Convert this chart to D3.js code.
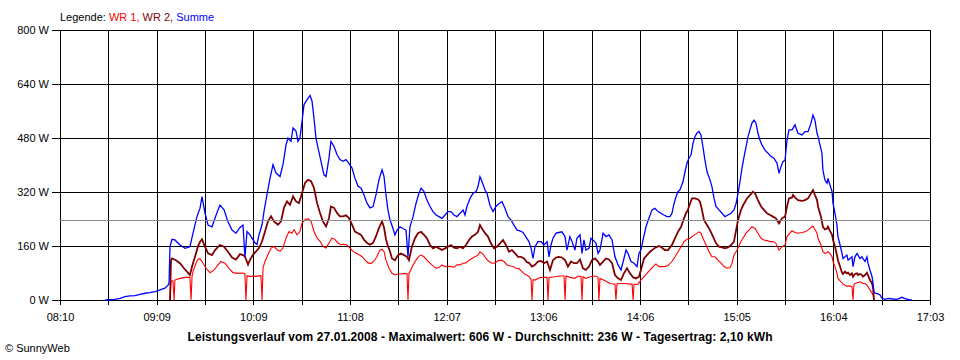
<!DOCTYPE html>
<html><head><meta charset="utf-8">
<script src="https://cdn.jsdelivr.net/npm/d3@7"></script>
<style>
body{margin:0;background:#fff;}
svg{display:block;font-family:"Liberation Sans",Arial,sans-serif;}
</style></head>
<body><svg id="c" width="960" height="360"></svg>
<script>
// time in minutes since midnight, power in W
const xTickLabels = ["08:10","09:09","10:09","11:08","12:07","13:06","14:06","15:05","16:04","17:03"];
const yTickValues = [0,160,320,480,640,800];
const averageW = 236;
const seriesNames = ["WR 1","WR 2","Summe"];
const seriesColors = ["#ff0000","#800000","#0000ff"];

const wr1 = [
[557.4,0],[558.0,54],[558.6,56],[559.2,57],[559.9,0],[560.4,59],[563.5,64],[566.6,67],[569.6,67],[570.3,0],[570.9,70],[571.5,84],[573.3,109],[574.5,120],[575.8,123],[577.6,109],[579.5,94],[581.9,81],[584.4,89],[586.8,104],[588.6,114],[591.1,109],[593.5,94],[596.0,81],[599.0,79],[601.5,80],[603.3,78],[603.9,0],[604.6,72],[606.4,70],[609.5,70],[613.1,72],[613.8,0],[614.4,95],[615.6,115],[617.4,134],[619.3,154],[621.1,159],[623.0,149],[624.8,144],[626.6,154],[628.5,184],[630.3,203],[632.1,198],[633.4,208],[635.2,193],[637.0,203],[638.3,228],[640.1,238],[641.9,241],[643.8,233],[645.6,203],[647.5,184],[649.3,174],[651.1,159],[653.0,154],[654.8,169],[656.6,184],[658.5,179],[660.3,169],[662.1,164],[664.0,165],[665.8,163],[667.7,154],[669.5,144],[671.3,139],[673.2,134],[675.0,129],[676.8,119],[678.7,110],[680.5,108],[682.4,115],[684.2,129],[686.0,148],[687.3,150],[688.5,144],[689.7,118],[691.6,94],[693.4,79],[695.2,74],[697.1,77],[698.9,77],[700.8,79],[702.6,78],[703.2,0],[703.8,80],[704.4,84],[706.3,104],[708.1,118],[709.9,130],[711.2,133],[713.0,128],[714.8,118],[716.7,109],[718.5,101],[720.4,94],[722.2,96],[724.0,104],[725.9,99],[727.7,100],[729.5,99],[731.4,97],[733.2,104],[735.1,104],[736.9,109],[738.7,110],[740.6,118],[742.4,123],[744.2,128],[746.1,133],[747.3,143],[749.2,136],[751.0,123],[752.8,114],[754.7,109],[756.5,110],[758.3,116],[760.2,118],[762.0,114],[763.8,104],[765.7,101],[767.5,99],[769.4,94],[771.2,93],[773.0,84],[774.9,76],[776.7,72],[778.6,62],[779.2,0],[779.8,60],[781.0,59],[782.8,64],[784.7,67],[787.1,67],[788.4,67],[789.0,0],[789.6,67],[793.3,69],[796.3,71],[798.8,71],[799.4,0],[800.0,71],[802.4,67],[805.5,64],[807.3,71],[809.2,70],[809.8,0],[810.4,69],[812.2,64],[814.7,69],[817.8,71],[819.6,68],[820.2,0],[820.8,64],[823.9,57],[827.0,49],[830.0,47],[830.6,0],[831.3,48],[833.1,49],[836.1,49],[839.2,47],[840.5,47],[841.1,0],[841.7,46],[844.1,47],[845.9,59],[847.8,69],[849.6,79],[851.5,89],[853.3,99],[855.1,107],[857.0,99],[858.8,99],[860.6,99],[862.5,102],[864.9,114],[866.8,128],[868.6,143],[870.5,158],[872.3,173],[874.1,180],[876.0,183],[877.8,190],[879.7,196],[881.5,202],[882.7,198],[883.9,183],[885.8,163],[887.6,143],[889.4,128],[891.3,128],[893.1,118],[895.0,109],[896.8,99],[898.6,94],[900.5,96],[901.7,109],[902.9,133],[904.8,148],[906.6,168],[908.4,183],[910.3,198],[912.1,207],[913.9,217],[915.8,212],[917.6,198],[919.5,183],[921.3,178],[923.1,176],[925.0,173],[926.8,173],[928.6,168],[930.5,148],[932.3,158],[934.2,163],[935.4,188],[936.6,195],[938.5,205],[940.3,200],[942.1,198],[944.6,200],[946.4,202],[948.3,207],[950.1,215],[951.3,219],[952.5,209],[953.8,198],[954.4,183],[956.2,163],[957.4,143],[958.6,138],[959.9,140],[960.5,143],[961.7,138],[963.0,128],[963.6,114],[964.8,99],[966.0,79],[966.6,64],[967.9,57],[969.1,51],[969.7,47],[970.9,44],[972.1,41],[974.0,41],[975.2,40],[975.8,0],[976.4,45],[977.0,49],[978.3,51],[978.9,51],[980.1,54],[981.3,51],[981.9,49],[983.2,49],[984.4,44],[985.0,40],[986.2,30],[987.5,20],[988.1,15],[988.7,0]
];

const wr2 = [
[557.4,0],[558.0,118],[558.6,123],[561.0,118],[563.5,109],[565.9,94],[567.8,84],[569.6,74],[570.9,99],[572.7,128],[574.5,158],[575.8,173],[577.0,180],[578.8,158],[580.7,138],[583.1,133],[585.0,148],[588.0,163],[590.5,158],[592.9,143],[595.4,126],[597.8,120],[600.3,136],[602.1,133],[603.3,129],[605.2,105],[606.4,119],[608.2,134],[610.1,144],[611.9,154],[613.8,174],[615.6,203],[617.4,233],[619.3,248],[621.1,233],[623.5,223],[625.4,233],[627.2,273],[629.1,292],[630.9,282],[632.8,307],[634.6,292],[636.4,287],[638.3,317],[640.1,347],[641.9,356],[643.8,352],[645.6,332],[647.5,287],[649.3,258],[651.1,233],[653.0,218],[654.8,243],[656.0,277],[657.9,273],[659.7,258],[661.5,248],[663.4,248],[665.2,251],[667.0,243],[668.9,223],[670.7,203],[672.6,198],[674.4,193],[676.2,179],[678.1,169],[679.9,164],[681.8,169],[683.6,189],[685.4,213],[687.3,233],[688.5,215],[689.7,180],[690.9,160],[692.2,143],[693.4,123],[695.2,118],[697.1,133],[698.9,138],[700.8,133],[702.6,128],[703.8,118],[705.6,158],[707.5,183],[709.3,198],[711.2,202],[713.0,193],[714.8,183],[716.7,163],[718.5,153],[720.4,158],[722.2,153],[724.0,148],[725.9,153],[727.7,158],[729.5,163],[731.4,155],[733.2,153],[735.1,158],[736.9,153],[738.7,163],[740.6,178],[742.4,188],[744.2,193],[746.1,202],[747.3,222],[748.5,212],[750.4,198],[752.2,188],[754.0,168],[755.9,153],[757.7,158],[759.6,168],[761.4,178],[763.2,163],[765.1,143],[766.9,148],[768.8,138],[770.6,128],[772.4,128],[774.3,123],[776.1,112],[777.3,110],[779.2,99],[781.0,104],[782.8,114],[784.7,116],[786.5,109],[788.4,114],[790.2,89],[792.0,118],[793.9,126],[795.7,128],[797.5,126],[799.4,118],[801.2,99],[803.1,114],[804.9,109],[806.7,109],[808.6,120],[810.4,94],[812.2,89],[814.1,99],[815.9,118],[817.8,123],[819.6,114],[820.8,104],[822.7,114],[824.5,123],[826.3,120],[828.2,109],[830.0,74],[831.9,64],[833.7,59],[835.5,79],[837.4,94],[839.2,79],[841.1,67],[842.9,64],[844.7,69],[845.9,89],[847.8,123],[849.6,133],[851.5,143],[853.3,150],[855.1,156],[857.0,160],[858.8,155],[860.6,148],[862.5,148],[864.9,163],[866.8,183],[868.6,202],[870.5,217],[872.3,242],[873.5,257],[874.7,267],[876.0,286],[877.2,301],[879.0,301],[880.9,298],[882.1,291],[883.3,267],[884.5,237],[886.4,222],[888.2,207],[890.1,188],[891.9,168],[893.7,158],[895.6,156],[897.4,153],[899.2,156],[901.1,163],[902.9,173],[904.2,207],[905.4,237],[907.2,267],[909.1,286],[910.9,301],[912.7,311],[914.5,321],[915.8,316],[917.6,296],[919.5,277],[921.3,267],[923.1,257],[925.0,252],[926.8,247],[928.6,242],[930.5,227],[932.3,242],[934.2,247],[935.4,277],[936.6,301],[938.5,304],[939.1,311],[940.3,304],[942.1,296],[944.6,294],[946.4,296],[948.3,301],[950.1,316],[951.3,326],[952.5,311],[953.8,296],[954.4,277],[956.2,247],[957.4,217],[958.6,209],[959.9,212],[960.5,217],[961.7,205],[963.0,193],[963.6,178],[964.8,158],[966.0,133],[966.6,118],[967.9,99],[969.1,81],[969.7,77],[970.9,84],[972.1,79],[972.8,81],[974.0,74],[975.2,79],[975.8,69],[977.0,77],[978.3,79],[978.9,74],[980.1,77],[981.3,74],[981.9,69],[983.2,74],[984.4,81],[985.0,74],[986.2,59],[987.5,49],[988.1,35],[988.7,0]
];

const summe = [
[517.6,0],[520.6,1],[523.7,2],[526.8,5],[529.8,10],[532.9,12],[536.0,13],[539.0,17],[542.1,20],[545.1,22],[548.2,25],[551.3,30],[554.3,35],[556.2,44],[556.8,50],[557.4,158],[558.6,180],[560.4,178],[563.5,163],[566.6,153],[569.6,158],[571.5,198],[573.9,247],[575.8,272],[577.0,306],[578.8,258],[580.7,222],[583.1,217],[585.0,243],[586.8,267],[588.0,281],[590.5,267],[592.9,232],[595.4,207],[597.8,198],[600.3,215],[602.1,222],[603.3,128],[604.6,203],[606.4,193],[608.2,179],[609.5,169],[610.7,165],[611.9,193],[613.8,223],[615.0,263],[616.8,312],[618.7,361],[620.5,401],[622.3,376],[624.8,366],[626.6,401],[628.5,460],[629.7,480],[631.5,470],[632.8,510],[634.6,500],[635.8,470],[637.0,480],[638.3,530],[639.5,579],[641.3,593],[643.2,606],[644.4,589],[645.6,539],[646.8,480],[648.1,450],[649.9,411],[651.7,371],[653.0,366],[654.8,421],[656.0,470],[657.9,455],[659.7,431],[661.5,416],[663.4,411],[665.2,416],[667.0,405],[668.9,391],[670.7,361],[672.6,337],[674.4,332],[676.2,312],[678.1,287],[679.9,273],[681.8,277],[683.6,312],[685.4,356],[687.3,386],[688.5,366],[689.7,312],[690.9,267],[692.2,237],[694.0,212],[695.2,193],[696.5,207],[698.3,217],[700.1,212],[702.0,207],[703.2,128],[704.4,217],[706.3,247],[708.1,286],[709.9,316],[711.2,331],[713.0,321],[714.8,296],[716.7,277],[718.5,262],[720.4,252],[722.2,247],[724.0,242],[725.9,252],[727.7,262],[729.5,262],[731.4,252],[733.2,247],[735.1,257],[736.9,267],[738.1,252],[739.3,277],[741.2,301],[743.0,316],[744.9,321],[746.1,336],[747.3,365],[748.5,351],[750.4,326],[751.6,316],[753.4,281],[755.3,262],[757.1,277],[759.0,286],[760.8,291],[762.6,272],[764.5,247],[766.3,237],[768.1,222],[770.0,207],[771.8,205],[773.7,200],[775.5,186],[777.3,173],[778.6,153],[779.8,123],[781.0,158],[782.8,173],[784.7,173],[786.5,163],[788.4,173],[789.6,128],[790.8,163],[792.0,183],[793.9,198],[795.7,200],[797.5,202],[799.4,188],[800.6,148],[802.4,188],[803.7,173],[805.5,148],[806.7,183],[808.6,193],[809.8,138],[811.0,178],[812.2,148],[814.1,153],[815.3,183],[816.5,178],[818.4,168],[819.6,138],[820.8,148],[822.7,198],[824.5,188],[826.3,193],[828.2,178],[830.0,128],[831.9,104],[833.7,89],[835.5,123],[836.8,148],[838.0,138],[839.8,114],[841.7,109],[843.5,99],[844.7,138],[845.9,148],[847.2,178],[849.0,217],[850.8,242],[852.7,267],[854.5,272],[856.4,262],[858.2,257],[860.0,252],[861.9,247],[863.7,247],[864.9,257],[866.2,286],[867.4,306],[868.6,321],[869.8,326],[871.7,351],[872.9,380],[874.1,405],[875.3,420],[876.6,430],[877.8,464],[879.0,484],[880.2,494],[881.5,499],[882.7,489],[883.9,454],[885.1,415],[886.4,380],[888.2,356],[889.4,336],[890.7,301],[891.9,277],[893.7,267],[895.6,257],[897.4,247],[899.2,252],[901.1,257],[902.9,267],[904.2,286],[905.4,316],[906.6,351],[907.8,390],[909.1,425],[910.3,454],[911.5,484],[912.7,504],[913.9,524],[915.2,533],[916.4,524],[917.6,494],[918.8,474],[920.1,459],[921.9,444],[923.8,435],[925.6,425],[927.4,420],[929.3,405],[930.5,375],[931.7,395],[932.9,410],[934.2,415],[935.4,474],[936.6,504],[938.5,504],[940.3,519],[942.1,494],[944.6,489],[946.4,499],[948.3,499],[950.1,524],[951.3,548],[952.5,533],[953.8,494],[954.4,484],[956.8,435],[957.4,385],[958.6,356],[959.9,346],[960.5,360],[961.7,341],[963.0,321],[963.6,286],[964.8,257],[966.0,222],[966.6,188],[967.9,163],[969.1,138],[969.7,123],[970.9,128],[972.1,133],[972.8,118],[974.0,123],[975.2,128],[975.8,99],[977.0,128],[978.3,138],[978.9,133],[980.1,123],[981.3,128],[981.9,123],[983.2,114],[984.4,128],[985.0,109],[986.2,89],[987.5,69],[988.1,49],[988.7,25],[989.3,20],[991.1,18],[992.4,15],[993.6,5],[995.4,2],[997.3,5],[1000.3,3],[1002.8,2],[1005.8,8],[1007.7,4],[1010.7,0],[1011.9,0]
];

const startMin = 490, endMin = 1023;   // 08:10 .. 17:03
const titleText = "Leistungsverlauf vom 27.01.2008 - Maximalwert: 606 W - Durchschnitt: 236 W - Tagesertrag: 2,10 kWh";

const svg = d3.select("#c");
const L = 60, R = 930, T = 30, B = 300;
const x = d3.scaleLinear().domain([startMin, endMin]).range([L, R]);
const y = d3.scaleLinear().domain([0, 800]).range([B, T]);

// legend
const leg = svg.append("text").attr("x", 60).attr("y", 21).attr("font-size", 11);
leg.append("tspan").attr("fill", "#000").text("Legende: ");
seriesNames.forEach((n, i) => {
  leg.append("tspan").attr("fill", seriesColors[i]).text(n + (i < 2 ? ", " : ""));
});

// grid
const gridTimes = d3.range(19).map(i => startMin + i * (endMin - startMin) / 18);
const g = svg.append("g").attr("shape-rendering", "crispEdges");
g.selectAll("line.v").data(gridTimes).enter().append("line")
  .attr("x1", d => Math.round(x(d)) + 0.5).attr("x2", d => Math.round(x(d)) + 0.5)
  .attr("y1", T).attr("y2", B + 5).attr("stroke", "#000");
g.selectAll("line.h").data(yTickValues).enter().append("line")
  .attr("x1", L - 8).attr("x2", R + 1)
  .attr("y1", d => Math.round(y(d)) + 0.5).attr("y2", d => Math.round(y(d)) + 0.5)
  .attr("stroke", "#000");

// y labels
svg.selectAll("text.yl").data(yTickValues).enter().append("text")
  .attr("x", 49).attr("y", d => y(d) + 4).attr("text-anchor", "end")
  .attr("font-size", 11).attr("fill", "#000").text(d => d + " W");

// x labels
svg.selectAll("text.xl").data(xTickLabels).enter().append("text")
  .attr("x", (d, i) => x(gridTimes[i * 2]) + 0.5).attr("y", 321).attr("text-anchor", "middle")
  .attr("font-size", 11).attr("fill", "#000").text(d => d);

// data lines
const line = d3.line().x(d => x(d[0])).y(d => y(d[1]));
const series = [wr1, wr2, summe];
const widths = [1.1, 1.8, 1.3];
series.forEach((s, i) => {
  svg.append("path").datum(s).attr("d", line).attr("fill", "none")
    .attr("stroke", seriesColors[i]).attr("stroke-width", widths[i])
    .attr("stroke-linejoin", "miter");
});

// average line
svg.append("line").attr("shape-rendering", "crispEdges")
  .attr("x1", L).attr("x2", R).attr("y1", Math.round(y(averageW)) + 0.5).attr("y2", Math.round(y(averageW)) + 0.5)
  .attr("stroke", "#8c8c8c");

// title
svg.append("text").attr("x", 480).attr("y", 341).attr("text-anchor", "middle")
  .attr("font-size", 12).attr("font-weight", "bold").attr("fill", "#000")
  .attr("textLength", 585).attr("lengthAdjust", "spacing").text(titleText);
svg.append("text").attr("x", 5).attr("y", 352).attr("font-size", 11).attr("fill", "#000").text("\u00a9 SunnyWeb");
</script></body></html>
